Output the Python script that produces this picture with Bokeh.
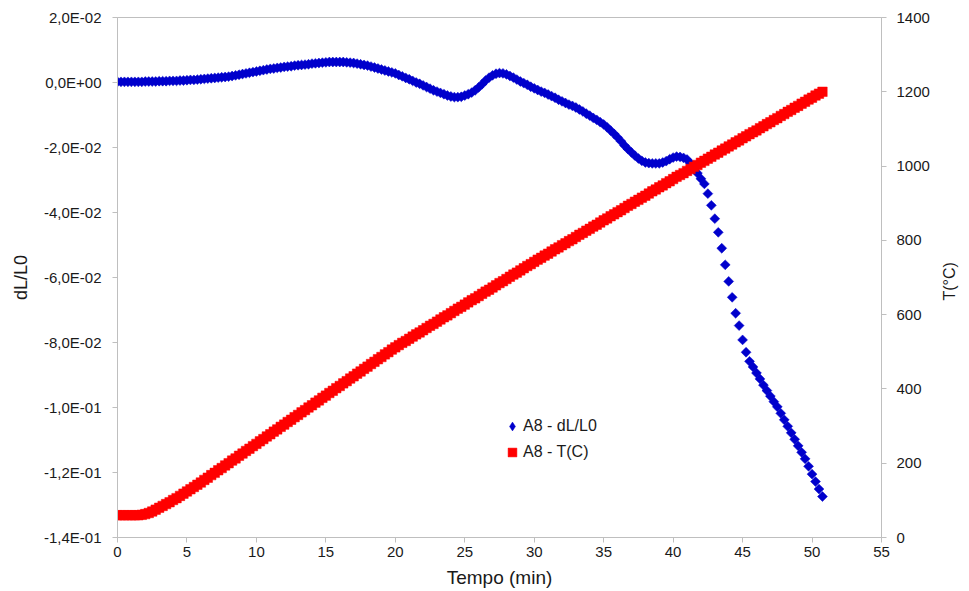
import math
from bokeh.plotting import figure
from bokeh.models import (Range1d, LinearAxis, FixedTicker, CustomJSTickFormatter,
                          Legend, LegendItem, ColumnDataSource)
from bokeh.embed import file_html
from bokeh.resources import INLINE

# ---------------- data ----------------
time_min = [
    0, 0.25, 0.5, 0.75, 1, 1.25, 1.5, 1.75, 2, 2.25, 2.5, 2.75, 3, 3.25, 3.5, 3.75,
    4, 4.25, 4.5, 4.75, 5, 5.25, 5.5, 5.75, 6, 6.25, 6.5, 6.75, 7, 7.25, 7.5, 7.75,
    8, 8.25, 8.5, 8.75, 9, 9.25, 9.5, 9.75, 10, 10.25, 10.5, 10.75, 11, 11.25, 11.5, 11.75,
    12, 12.25, 12.5, 12.75, 13, 13.25, 13.5, 13.75, 14, 14.25, 14.5, 14.75, 15, 15.25, 15.5, 15.75,
    16, 16.25, 16.5, 16.75, 17, 17.25, 17.5, 17.75, 18, 18.25, 18.5, 18.75, 19, 19.25, 19.5, 19.75,
    20, 20.25, 20.5, 20.75, 21, 21.25, 21.5, 21.75, 22, 22.25, 22.5, 22.75, 23, 23.25, 23.5, 23.75,
    24, 24.25, 24.5, 24.75, 25, 25.25, 25.5, 25.75, 26, 26.25, 26.5, 26.75, 27, 27.25, 27.5, 27.75,
    28, 28.25, 28.5, 28.75, 29, 29.25, 29.5, 29.75, 30, 30.25, 30.5, 30.75, 31, 31.25, 31.5, 31.75,
    32, 32.25, 32.5, 32.75, 33, 33.25, 33.5, 33.75, 34, 34.25, 34.5, 34.75, 35, 35.25, 35.5, 35.75,
    36, 36.25, 36.5, 36.75, 37, 37.25, 37.5, 37.75, 38, 38.25, 38.5, 38.75, 39, 39.25, 39.5, 39.75,
    40, 40.25, 40.5, 40.75, 41, 41.25, 41.5, 41.75, 42, 42.25, 42.5, 42.75, 43, 43.25, 43.5, 43.75,
    44, 44.25, 44.5, 44.75, 45, 45.25, 45.5, 45.75, 46, 46.25, 46.5, 46.75, 47, 47.25, 47.5, 47.75,
    48, 48.25, 48.5, 48.75, 49, 49.25, 49.5, 49.75, 50, 50.25, 50.5, 50.75,
]

# dL/L0 in units of 1e-3
dl_l0_milli = [
    0.2, 0.2, 0.2, 0.2, 0.2, 0.2, 0.2, 0.2,
    0.3, 0.3, 0.3, 0.3, 0.4, 0.4, 0.4, 0.5,
    0.5, 0.5, 0.6, 0.6, 0.7, 0.8, 0.8, 0.9,
    1.0, 1.1, 1.2, 1.3, 1.4, 1.5, 1.6, 1.7,
    1.8, 2.0, 2.2, 2.4, 2.6, 2.8, 3.0, 3.2,
    3.4, 3.6, 3.8, 4.0, 4.2, 4.3, 4.5, 4.6,
    4.8, 4.9, 5.0, 5.2, 5.3, 5.4, 5.5, 5.6,
    5.8, 5.9, 6.0, 6.1, 6.2, 6.3, 6.3, 6.3,
    6.3, 6.3, 6.2, 6.1, 6.0, 5.8, 5.6, 5.4,
    5.2, 4.9, 4.6, 4.3, 4.0, 3.7, 3.4, 3.1,
    2.8, 2.3, 1.9, 1.4, 1.0, 0.5, 0.0, -0.4,
    -0.9, -1.4, -1.9, -2.4, -2.8, -3.2, -3.6, -4.0,
    -4.3, -4.5, -4.5, -4.4, -4.0, -3.6, -3.1, -2.4,
    -1.5, -0.5, 0.6, 1.5, 2.2, 2.7, 2.9, 2.8,
    2.5, 2.0, 1.5, 0.9, 0.3, -0.2, -0.7, -1.3,
    -1.8, -2.3, -2.8, -3.2, -3.7, -4.2, -4.7, -5.3,
    -5.8, -6.3, -6.8, -7.2, -7.7, -8.3, -8.9, -9.6,
    -10.2, -10.9, -11.5, -12.2, -12.9, -13.8, -14.8, -15.8,
    -16.9, -18.1, -19.4, -20.5, -21.5, -22.5, -23.4, -24.1,
    -24.6, -24.8, -24.9, -24.9, -24.9, -24.6, -24.2, -23.6,
    -23.1, -22.8, -22.9, -23.2, -23.7, -24.9, -26.3, -27.9,
    -29.6, -31.2, -34.2, -37.8, -41.9, -46.1, -51.0, -56.1,
    -61.2, -66.1, -71.0, -74.8, -79.2, -83.0, -85.8, -87.5,
    -89.4, -91.2, -93.1, -94.8, -96.5, -98.2, -99.8, -101.8,
    -103.8, -105.8, -107.8, -109.8, -111.8, -113.8, -115.8, -118.1,
    -120.5, -122.8, -125.1, -127.4,
]

# temperature in degC
temp_c = [
    60, 60, 60, 60, 60, 60, 60, 61,
    63, 66, 70, 75, 80, 85, 90, 95,
    101, 106, 112, 118, 124, 130, 136, 142,
    148, 155, 161, 168, 174, 181, 187, 194,
    200, 207, 213, 220, 226, 233, 239, 246,
    252, 259, 265, 272, 278, 285, 291, 298,
    304, 311, 317, 324, 330, 337, 343, 350,
    356, 363, 369, 376, 382, 389, 395, 402,
    408, 415, 421, 428, 434, 441, 447, 454,
    460, 467, 473, 480, 486, 493, 499, 506,
    512, 518, 524, 529, 535, 541, 547, 552,
    558, 564, 570, 575, 581, 587, 593, 598,
    604, 610, 616, 621, 627, 633, 639, 644,
    650, 656, 662, 667, 673, 679, 685, 690,
    696, 702, 708, 713, 719, 725, 731, 736,
    742, 748, 753, 759, 764, 770, 776, 781,
    787, 792, 798, 803, 809, 815, 820, 826,
    831, 837, 842, 848, 854, 859, 865, 870,
    876, 881, 887, 893, 898, 904, 909, 915,
    920, 926, 932, 937, 943, 948, 954, 959,
    965, 971, 976, 981, 987, 992, 998, 1003,
    1009, 1014, 1020, 1025, 1031, 1036, 1042, 1047,
    1053, 1058, 1064, 1069, 1075, 1080, 1086, 1091,
    1096, 1102, 1107, 1113, 1118, 1124, 1129, 1135,
    1140, 1146, 1151, 1157, 1162, 1168, 1173, 1179,
    1184, 1190, 1195, 1200,
]

dl_l0 = [v / 1000.0 for v in dl_l0_milli]

x_ticks = [0, 5, 10, 15, 20, 25, 30, 35, 40, 45, 50, 55]
left_ticks = [-0.14, -0.12, -0.10, -0.08, -0.06, -0.04, -0.02, 0.0, 0.02]
right_ticks = [0, 200, 400, 600, 800, 1000, 1200, 1400]

series_names = ["A8 - dL/L0", "A8 - T(C)"]
x_title = "Tempo (min)"
left_title = "dL/L0"
right_title = "T(°C)"

# ---------------- figure ----------------
FONT = "Liberation Sans"
AX_GREY = "#BFBFBF"
TXT = "#1A1A1A"
BLUE = "#0000CC"
RED = "#FF0000"
RIGHT_TITLE_AT = 638   # where the right-hand title starts, in the T scale

p = figure(width=969, height=591, x_range=Range1d(0, 55), y_range=Range1d(-0.14, 0.02),
           output_backend="svg", toolbar_location=None,
           min_border_left=117, min_border_right=84, min_border_top=17, min_border_bottom=54)
p.extra_y_ranges = {"T": Range1d(0, 1400)}
p.grid.visible = False
p.outline_line_color = AX_GREY
p.background_fill_color = "white"
p.border_fill_color = "white"

sci_fmt = CustomJSTickFormatter(code="""
    if (Math.abs(tick) < 1e-12) { return "0,0E+00"; }
    var s = tick.toExponential(1);
    var parts = s.split('e');
    var m = parts[0].replace('.', ',');
    var e = parseInt(parts[1]);
    var sign = e < 0 ? '-' : '+';
    var a = Math.abs(e);
    return m + 'E' + sign + (a < 10 ? '0' : '') + a;
""")

right_axis = LinearAxis(y_range_name="T")
p.add_layout(right_axis, "right")

p.xaxis.ticker = FixedTicker(ticks=x_ticks)
p.yaxis[0].ticker = FixedTicker(ticks=left_ticks)
p.yaxis[0].formatter = sci_fmt
right_axis.ticker = FixedTicker(ticks=right_ticks)

p.xaxis.axis_label = x_title
p.yaxis[0].axis_label = left_title

for ax in [p.xaxis[0], p.yaxis[0], right_axis]:
    ax.axis_line_color = AX_GREY
    ax.major_tick_line_color = AX_GREY
    ax.minor_tick_line_color = None
    ax.major_tick_in = 0
    ax.major_tick_out = 5
    ax.major_label_text_font = FONT
    ax.major_label_text_font_size = "15px"
    ax.major_label_text_color = TXT
    ax.axis_label_text_font = FONT
    ax.axis_label_text_font_size = "18px"
    ax.axis_label_text_font_style = "normal"
    ax.axis_label_text_color = TXT

p.xaxis[0].axis_label_text_font_size = "19px"
p.yaxis[0].major_label_standoff = 11
p.yaxis[0].axis_label_standoff = 10
right_axis.major_label_standoff = 10
p.xaxis[0].major_label_standoff = 4
p.xaxis[0].axis_label_standoff = 7

# right-hand title "T(°C)", reading bottom-to-top as in the reference: drawn as the
# single rotated label of a tick-less companion axis so that it can be placed freely.
title_axis = LinearAxis(y_range_name="T", ticker=FixedTicker(ticks=[RIGHT_TITLE_AT]),
                        formatter=CustomJSTickFormatter(args=dict(t=right_title),
                                                        code="return t;"),
                        axis_line_color=None, major_tick_line_color=None,
                        minor_tick_line_color=None, major_tick_in=0, major_tick_out=0,
                        minor_tick_in=0, minor_tick_out=0, major_label_standoff=17,
                        major_label_orientation=math.pi / 2,
                        major_label_text_font=FONT, major_label_text_font_size="16px",
                        major_label_text_color=TXT)
p.add_layout(title_axis, "right")

src = ColumnDataSource(dict(t=time_min, dl=dl_l0, temp=temp_c))

r_blue = p.scatter("t", "dl", source=src, marker="square", angle=math.pi / 4, size=7,
                   fill_color=BLUE, line_color=BLUE, line_width=0.5)
r_red = p.scatter("t", "temp", source=src, marker="square", size=9.5,
                  fill_color=RED, line_color=RED, line_width=0.5,
                  y_range_name="T")

# hidden copy of the blue series drawn with Bokeh's diamond marker, used only for
# the legend swatch (the legend draws markers unrotated)
leg_blue = p.scatter("t", "dl", source=src, marker="diamond", fill_color=BLUE,
                     line_color=BLUE, line_width=0.5, visible=False)

legend = Legend(items=[LegendItem(label=series_names[0], renderers=[leg_blue]),
                       LegendItem(label=series_names[1], renderers=[r_red])],
                location=(384, 73), background_fill_alpha=0, border_line_color=None,
                label_text_font=FONT, label_text_font_size="16px", label_text_color=TXT,
                glyph_width=22, glyph_height=24, label_height=24, label_standoff=0,
                spacing=2, padding=0, margin=0)
p.add_layout(legend)

open("out.html", "w").write(file_html(p, INLINE))
